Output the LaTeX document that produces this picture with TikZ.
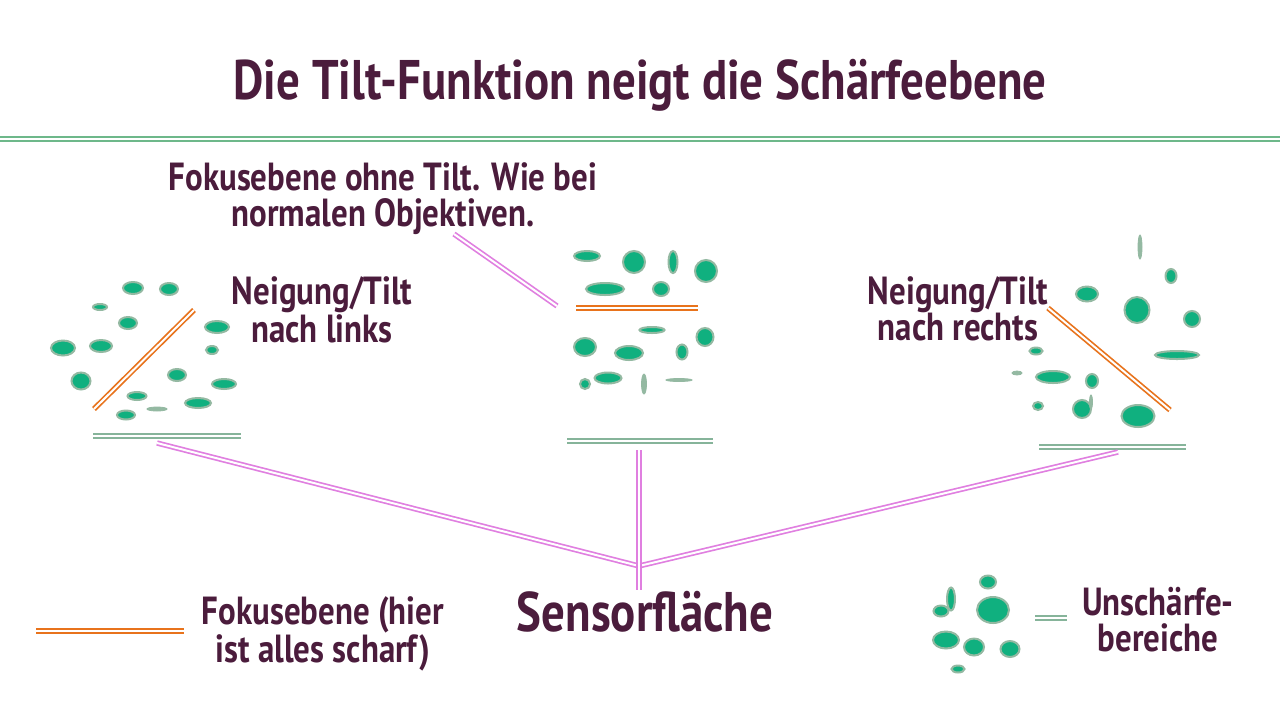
\documentclass[tikz,border=0pt]{standalone}
\usepackage{fontspec}
\setmainfont[FakeStretch=0.84]{PT Sans}
\definecolor{plum}{HTML}{4B1C3C}
\definecolor{blobgreen}{HTML}{10B07F}
\definecolor{blobrim}{HTML}{94B9A2}
\definecolor{sensgreen}{HTML}{86B49A}
\definecolor{rulegreen}{HTML}{6DB88A}
\definecolor{focusorange}{HTML}{E8731C}
\definecolor{linkpink}{HTML}{E07FE0}
\tikzset{
  twin/.style={draw=#1, double=white, line width=0.85pt, double distance=1pt},
  blob/.style={fill=blobgreen, draw=blobrim, line width=1pt},
  haze/.style={fill=blobrim, draw=blobrim, line width=0.4pt},
  lbl/.style={text=plum, font=\bfseries\fontsize{19.6}{18}\selectfont, align=center, inner sep=0pt, anchor=north},
  bigtext/.style={lbl, font=\bfseries\fontsize{27.9}{30}\selectfont}
}
\begin{document}
\begin{tikzpicture}[x=0.5pt,y=-0.5pt]
\fill[white] (0,0) rectangle (1280,720);
\useasboundingbox (0,0) rectangle (1280,720);

\node[bigtext, anchor=base] (title) at (640,99) {Die Tilt-Funktion neigt die Schärfeebene};
\draw[twin=rulegreen, line width=0.9pt] (0,139) -- (1280,139);

%labels
\node[lbl] (fokusText) at (383,162) {Fokusebene ohne Tilt. Wie bei\\normalen Objektiven.};
\node[lbl] (tiltL) at (322,276) {Neigung/Tilt\\nach links};
\node[lbl] (tiltR) at (958,276) {Neigung/Tilt\\nach rechts};
\node[lbl] (legFokus) at (323,596) {Fokusebene (hier\\ist alles scharf)};
\node[lbl] (legBlur) at (1158,587) {Unschärfe-\\bereiche};
\node[bigtext] (sensText) at (645,591) {Sensorfläche};

%blur spots
\foreach \x/\y/\a/\b in {133/288/10/6, 169/289/9/6, 100/307/7/3, 128/323/9/6, 63/348/12/7.5, 101/346/11/6, 81/381/9.5/8.5,
    217/327/12/6, 212/350/6/4, 177/375/9/6, 224/384/12/5, 137/396/9.5/4, 198/403/13/5, 126/415/9/4.5,
    587/256/13/5, 634/262/11/11, 673/262/4.5/11, 706/271/11/11, 605/289/19/6, 661/289/8/7, 652/330/12.5/3,
    705/337/8.5/9, 585/347/11/9, 629/353/14/7, 682/352/5.5/7.5, 585/384/5/5, 608/378/13.5/5.5,
    1171/276/5.5/7, 1087/294/11/7.5, 1137/310/12.5/13, 1192/319/8/8, 1036/351/6.5/3.5, 1177/355/22/4,
    1053/377/17/6, 1092/381/6/7, 1038/406/5/4, 1082/409/9/9, 1138/416/16.5/11,
    988/582/8/6.5, 951/599/4/11.5, 941/611/7.5/5.5, 993/610/16/13, 946/640/13/8.5, 974/647/10/8.5,
    1010/649/9.5/8, 958/669/6.5/3.5}
  \draw[blob] (\x,\y) ellipse [x radius=\a, y radius=\b];
\foreach \x/\y/\a/\b in {157/409/10/2, 644/384/2.5/10, 679/380/13/1.5, 1140/247/2/12, 1017/373/5/2, 1091/402/1.5/7}
  \draw[haze] (\x,\y) ellipse [x radius=\a, y radius=\b];

%focus planes
\coordinate (focLa) at (94,409);   \coordinate (focLb) at (194,310);
\coordinate (focMa) at (576,308);  \coordinate (focMb) at (698,308);
\coordinate (focRa) at (1048,308); \coordinate (focRb) at (1170,410);
\coordinate (legOa) at (36,631);   \coordinate (legOb) at (184,631);
\draw[twin=focusorange] (focLa) -- (focLb);
\draw[twin=focusorange] (focMa) -- (focMb);
\draw[twin=focusorange] (focRa) -- (focRb);
\draw[twin=focusorange] (legOa) -- (legOb);

%sensors
\coordinate (sensLa) at (93,436);   \coordinate (sensLb) at (241,436);
\coordinate (sensMa) at (567,441);  \coordinate (sensMb) at (713,441);
\coordinate (sensRa) at (1039,447); \coordinate (sensRb) at (1186,447);
\coordinate (legGa) at (1035,618);  \coordinate (legGb) at (1067,618);
\draw[twin=sensgreen] (sensLa) -- (sensLb);
\draw[twin=sensgreen] (sensMa) -- (sensMb);
\draw[twin=sensgreen] (sensRa) -- (sensRb);
\draw[twin=sensgreen] (legGa) -- (legGb);

%pointers
\coordinate (hub) at (639,566);
\coordinate (hubFoot) at (639,590);
\coordinate (sensL) at (157,443);
\coordinate (sensM) at (639,450);
\coordinate (sensR) at (1118,452);
\coordinate (fokusTip) at (454,234);
\coordinate (fokusEnd) at (557,306);
\draw[twin=linkpink] (sensL) -- (hub) -- (sensR);
\draw[twin=linkpink] (sensM) -- (hubFoot);
\draw[twin=linkpink] (fokusTip) -- (fokusEnd);
\end{tikzpicture}
\end{document}
